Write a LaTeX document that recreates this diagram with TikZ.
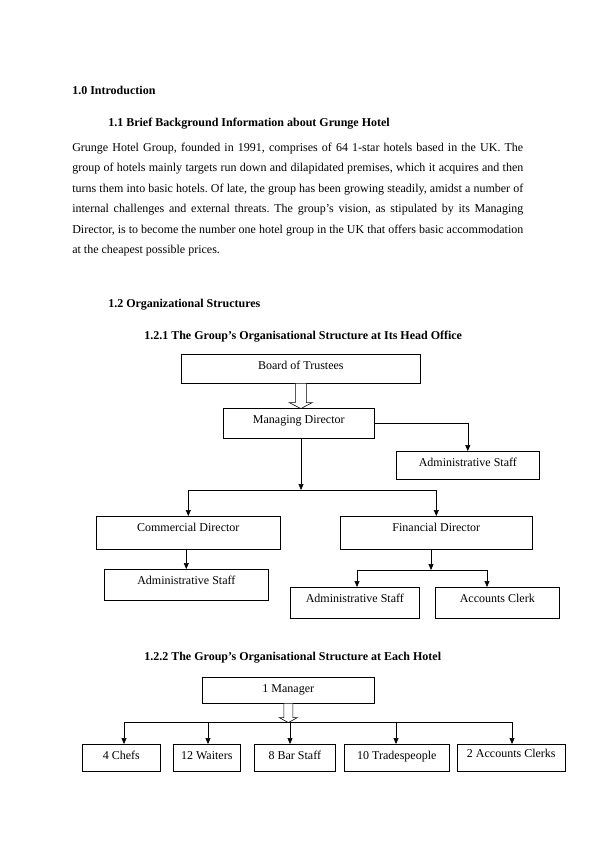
\documentclass[tikz,border=0pt]{standalone}
\usepackage{fontspec}
\setmainfont{Liberation Serif}
\usetikzlibrary{arrows.meta,calc}
\frenchspacing
\begin{document}
\begin{tikzpicture}[x=1pt,y=-1pt,
  font=\fontsize{12}{14}\selectfont,
  line width=0.6pt,
  orgbox/.style={draw, inner xsep=0pt, inner ysep=0pt, text height=15pt, anchor=north west},
  arr/.style={-{Triangle[length=6pt,width=5pt]}},
  hollow/.style={draw, fill=white, line join=miter},
  heading/.style={anchor=base west, inner sep=0pt, font=\fontsize{12}{14}\selectfont\bfseries},
  body/.style={anchor=base west, inner sep=0pt}]
\fill[white] (0,0) rectangle (595,842);
\useasboundingbox (0,0) rectangle (595,842);

% headings and text
\node[heading] (h10) at (72,95) {1.0 Introduction};
\node[heading] (h11) at (108,127) {1.1 Brief Background Information about Grunge Hotel};
\node[body] (p1) at (72,151.5) {\makebox[451pt][s]{Grunge Hotel Group, founded in 1991, comprises of 64 1-star hotels based in the UK. The}};
\node[body] (p2) at (72,171.9) {\makebox[451pt][s]{group of hotels mainly targets run down and dilapidated premises, which it acquires and then}};
\node[body] (p3) at (72,192.3) {\makebox[451pt][s]{turns them into basic hotels. Of late, the group has been growing steadily, amidst a number of}};
\node[body] (p4) at (72,212.7) {\makebox[451pt][s]{internal challenges and external threats. The group’s vision, as stipulated by its Managing}};
\node[body] (p5) at (72,233.1) {\makebox[451pt][s]{Director, is to become the number one hotel group in the UK that offers basic accommodation}};
\node[body] (p6) at (72,253.5) {at the cheapest possible prices.};
\node[heading] (h12) at (108,307) {1.2 Organizational Structures};
\node[heading] (h121) at (144,339) {1.2.1 The Group’s Organisational Structure at Its Head Office};
\node[heading] (h122) at (144,660) {1.2.2 The Group’s Organisational Structure at Each Hotel};

% head office chart
\node[orgbox, minimum width=239pt, text depth=14pt] (bot) at (181,354) {Board of Trustees};
\node[orgbox, minimum width=151pt, text depth=15pt] (md) at (223,408) {Managing Director};
\node[orgbox, minimum width=143pt, text depth=13pt] (adminR) at (396,451) {Administrative Staff};
\node[orgbox, minimum width=184pt, text depth=18pt] (cd) at (96,516) {Commercial Director};
\node[orgbox, minimum width=192pt, text depth=18pt] (fd) at (340,516) {Financial Director};
\node[orgbox, minimum width=164pt, text depth=16pt] (adminL) at (104,569) {Administrative Staff};
\node[orgbox, minimum width=129pt, text depth=16pt] (adminB) at (290,587) {Administrative Staff};
\node[orgbox, minimum width=124pt, text depth=16pt] (clerk) at (435,587) {Accounts Clerk};

\draw[hollow] ($(bot.south)+(-5.5,0)$) -- ++(0,19) -- ++(-6,0) -- ($(bot.south)+(0,25)$) -- ++(11.5,-6) -- ++(-6,0) -- ++(0,-19);
\draw[arr] (md.east) -| (adminR.north);
\coordinate (j1) at (301,490);
\draw[arr] (md.south -| j1) -- (j1);
\draw[arr] (j1) -| (cd.north);
\draw[arr] (j1) -| (fd.north);
\draw[arr] (cd.south -| adminL.north) -- (adminL.north);
\coordinate (j2) at (431,570);
\coordinate (j2l) at (357,570);
\coordinate (j2r) at (487,570);
\draw[arr] (fd.south -| j2) -- (j2);
\draw (j2l) -- (j2r);
\draw[arr] (j2l) -- (j2l |- adminB.north);
\draw[arr] (j2r) -- (j2r |- clerk.north);

% hotel chart
\node[orgbox, minimum width=172pt, text depth=11pt] (mgr) at (202,677) {1 Manager};
\node[orgbox, minimum width=78pt, text depth=12pt] (chefs) at (82,744) {4 Chefs};
\node[orgbox, minimum width=67pt, text depth=12pt] (waiters) at (173,744) {12 Waiters};
\node[orgbox, minimum width=81pt, text depth=12pt] (bar) at (254,744) {8 Bar Staff};
\node[orgbox, minimum width=105pt, text depth=12pt] (trades) at (344,744) {10 Tradespeople};
\node[orgbox, minimum width=108pt, text height=13pt, text depth=14pt] (clerks) at (457,744) {2 Accounts Clerks};

\coordinate (b1) at (124,722);
\coordinate (b2) at (208,722);
\coordinate (b3) at (290,722);
\coordinate (b4) at (396,722);
\coordinate (b5) at (512,722);
\draw (b1) -- (b5);
\draw[arr] (b1) -- (b1 |- chefs.north);
\draw[arr] (b2) -- (b2 |- waiters.north);
\draw[arr] (b3) -- (b3 |- bar.north);
\draw[arr] (b4) -- (b4 |- trades.north);
\draw[arr] (b5) -- (b5 |- clerks.north);
\draw[hollow] ($(mgr.south)+(-4.5,0)$) -- ++(0,14) -- ++(-4.5,0) -- ($(mgr.south)+(0,19)$) -- ++(9,-5) -- ++(-4.5,0) -- ++(0,-14);
\end{tikzpicture}
\end{document}
